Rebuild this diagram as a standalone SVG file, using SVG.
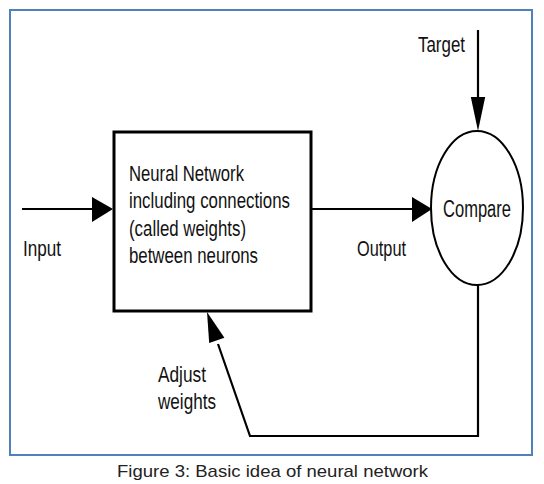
<svg xmlns="http://www.w3.org/2000/svg" width="544" height="484" viewBox="0 0 544 484">
<style>
.lbl{font-family:"Liberation Sans",Arial,sans-serif;font-size:22.5px;fill:#111;}
.cap{font-family:"Liberation Sans",Arial,sans-serif;font-size:17px;fill:#222;}
.ln{stroke:#000;stroke-width:2.2;fill:none;}
.head{fill:#000;stroke:none;}
</style>
<rect x="0" y="0" width="544" height="484" fill="#fff"/>
<rect id="frame" x="10" y="10" width="522" height="445" fill="none" stroke="#4f81bd" stroke-width="2"/>
<g id="connectors">
  <line class="ln" x1="22" y1="209" x2="95" y2="209" stroke-width="3"/>
  <polygon class="head" points="113,209 92,197 92,222"/>
  <line class="ln" x1="312" y1="209" x2="414" y2="209" stroke-width="3"/>
  <polygon class="head" points="432,209 412,197 412,222"/>
  <line class="ln" x1="478" y1="30" x2="478" y2="100"/>
  <polygon class="head" points="478,131 470.8,97 485.2,97"/>
  <polyline class="ln" points="478,285 478,436 250,436 218,344"/>
  <polygon class="head" points="207,312 224.4,337.8 209.2,343"/>
</g>
<g id="node-network">
  <rect x="114" y="132" width="197" height="179" fill="#fff" stroke="#000" stroke-width="3"/>
  <text class="lbl" x="129" y="181" textLength="115" lengthAdjust="spacingAndGlyphs">Neural Network</text>
  <text class="lbl" x="129" y="208" textLength="161" lengthAdjust="spacingAndGlyphs">including connections</text>
  <text class="lbl" x="129" y="236" textLength="117" lengthAdjust="spacingAndGlyphs">(called weights)</text>
  <text class="lbl" x="129" y="263" textLength="129" lengthAdjust="spacingAndGlyphs">between neurons</text>
</g>
<g id="node-compare">
  <ellipse cx="477" cy="208" rx="46" ry="77" fill="#fff" stroke="#000" stroke-width="2"/>
  <text class="lbl" x="443" y="217" textLength="68" lengthAdjust="spacingAndGlyphs" style="font-size:23.5px">Compare</text>
</g>
<g id="labels">
  <text class="lbl" x="418" y="52" textLength="47" lengthAdjust="spacingAndGlyphs" style="font-size:21.5px">Target</text>
  <text class="lbl" x="23" y="256" textLength="38" lengthAdjust="spacingAndGlyphs">Input</text>
  <text class="lbl" x="357" y="256" textLength="49" lengthAdjust="spacingAndGlyphs">Output</text>
  <text class="lbl" x="158" y="382" textLength="48" lengthAdjust="spacingAndGlyphs">Adjust</text>
  <text class="lbl" x="158" y="409" textLength="58" lengthAdjust="spacingAndGlyphs">weights</text>
</g>
<text class="cap" x="117" y="477" textLength="311" lengthAdjust="spacingAndGlyphs">Figure 3: Basic idea of neural network</text>
</svg>
